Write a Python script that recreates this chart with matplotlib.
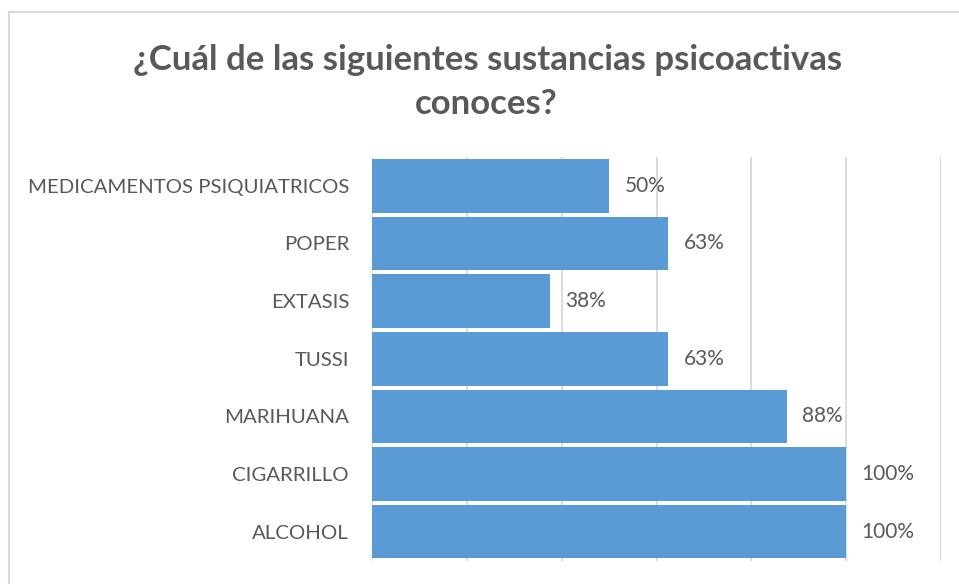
import matplotlib.pyplot as plt
from matplotlib.lines import Line2D

# data (8 respondents -> 62.5% shown as 63%, etc.)
categories = ['MEDICAMENTOS PSIQUIATRICOS', 'POPER', 'EXTASIS', 'TUSSI',
              'MARIHUANA', 'CIGARRILLO', 'ALCOHOL']
values = [0.5, 0.625, 0.375, 0.625, 0.875, 1.0, 1.0]
value_labels = ['50%', '63%', '38%', '63%', '88%', '100%', '100%']
x_ticks = [0, 0.2, 0.4, 0.6, 0.8, 1.0, 1.2]
title_lines = ['¿Cuál de las siguientes sustancias psicoactivas', 'conoces?']

bar_color = '#5b9bd5'
text_color = '#595959'
grid_color = '#d9d9d9'
font = ['Lato', 'DejaVu Sans']

W, H = 959, 584
fig = plt.figure(figsize=(W / 100, H / 100), dpi=100)

# chart area border (cropped screenshot: only left and top visible)
fig.add_artist(Line2D([9 / W, 9 / W], [0, 1 - 12 / H], transform=fig.transFigure,
                      color=grid_color, lw=1.5))
fig.add_artist(Line2D([9 / W, 1], [1 - 12 / H, 1 - 12 / H], transform=fig.transFigure,
                      color=grid_color, lw=1.5))

ax = fig.add_axes([372 / W, 1 - 560.5 / H, (941 - 372) / W, (560.5 - 157) / H])

ypos = list(range(len(categories)))
ax.barh(ypos, values, height=0.93, color=bar_color, zorder=3)
ax.set_ylim(len(categories) - 0.5, -0.5)
ax.set_xlim(0, 1.2)
ax.set_xticks(x_ticks)
ax.set_xticklabels([])
ax.set_yticks(ypos)
ax.set_yticklabels(categories, family=font, fontsize=14.7, color=text_color)
ax.tick_params(axis='y', length=0, pad=16.5)
ax.tick_params(axis='x', length=0)
ax.grid(axis='x', color=grid_color, lw=1.3, zorder=0)
for s in ax.spines.values():
    s.set_visible(False)

for y, v, lab in zip(ypos, values, value_labels):
    ax.annotate(lab, (v, y), xytext=(11, 0), textcoords='offset points',
                ha='left', va='center', family=font, fontsize=15, color=text_color)

fig.text(488 / W, 1 - 70 / H, title_lines[0], ha='center', va='baseline',
         family=font, fontsize=25, fontweight='bold', color=text_color)
fig.text(486 / W, 1 - 114 / H, title_lines[1], ha='center', va='baseline',
         family=font, fontsize=25, fontweight='bold', color=text_color)

fig.savefig('out.png', dpi=100)
